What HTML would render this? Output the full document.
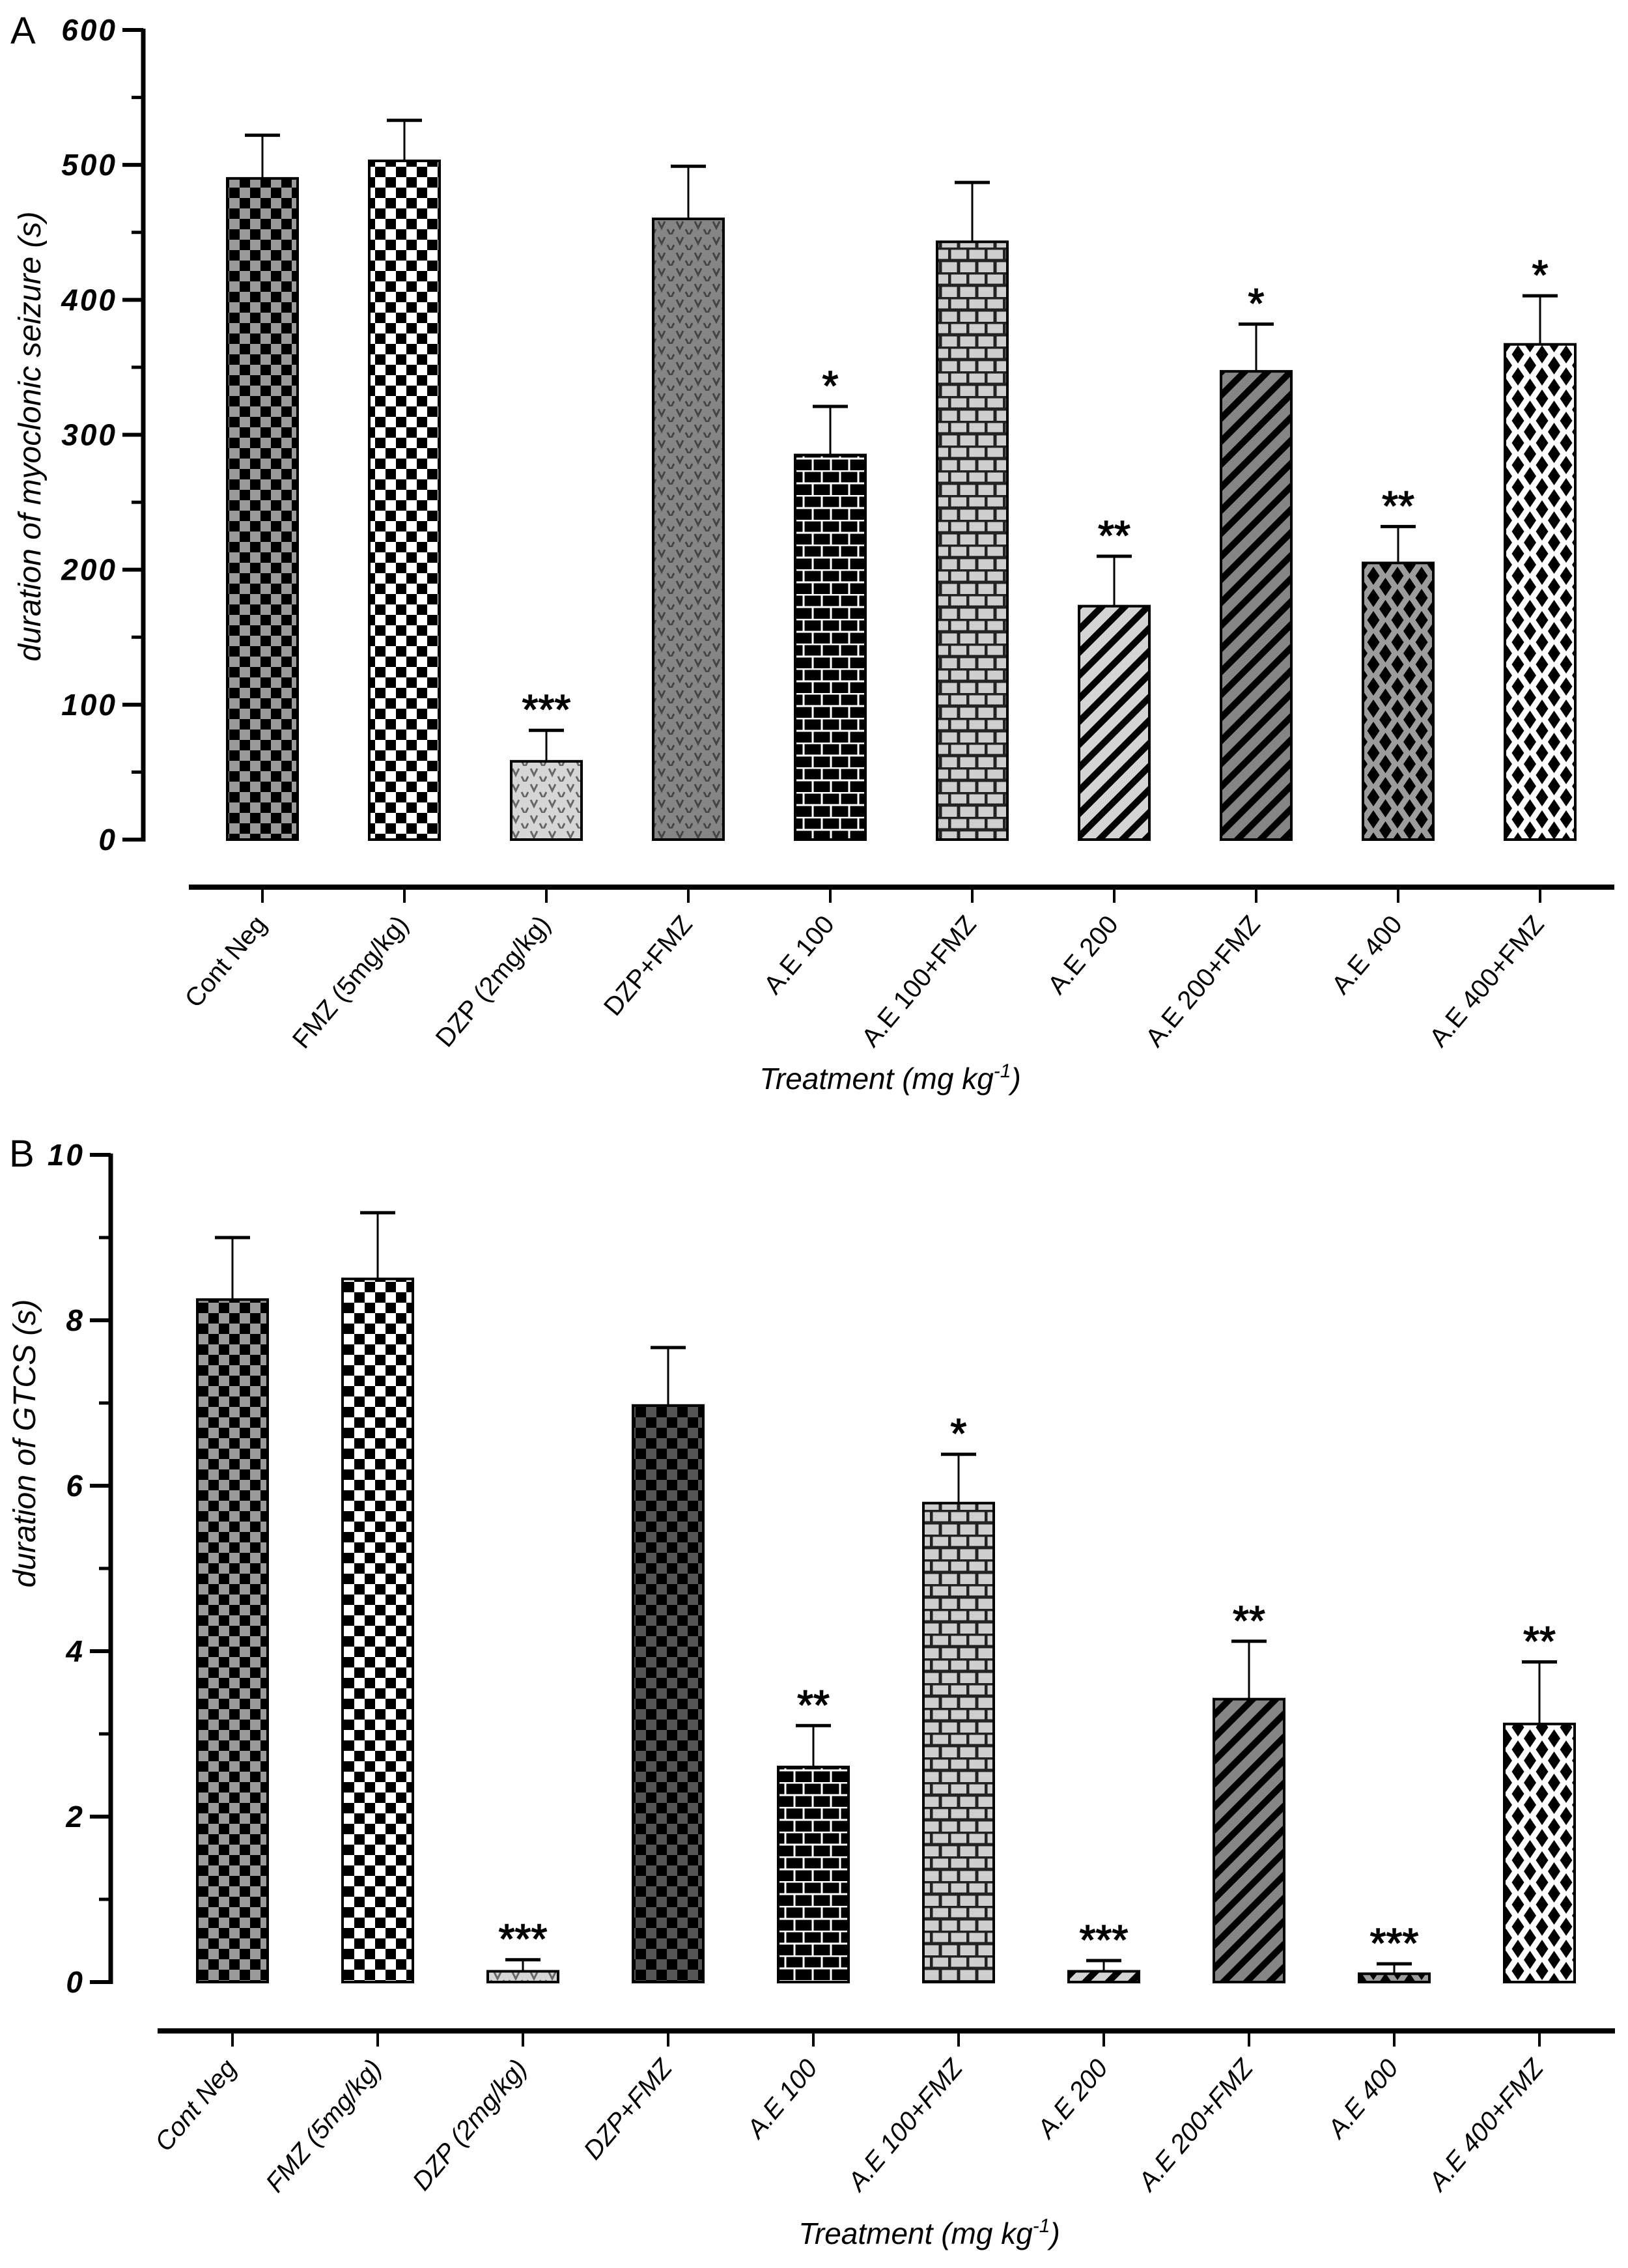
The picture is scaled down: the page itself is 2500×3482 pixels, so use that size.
<!DOCTYPE html>
<html><head><meta charset="utf-8">
<style>
html,body{margin:0;padding:0;background:#fff;}
svg{display:block;}
text{font-family:"Liberation Sans",Arial,sans-serif;}
</style></head>
<body>
<svg id="chart" width="2500" height="3482" viewBox="0 0 2500 3482" xmlns="http://www.w3.org/2000/svg">
<defs>
<pattern id="pChkGray" patternUnits="userSpaceOnUse" width="32" height="32"><rect width="32" height="32" fill="#9a9a9a"/><rect width="16" height="16" fill="#000"/><rect x="16" y="16" width="16" height="16" fill="#000"/></pattern>
<pattern id="pChkWhite" patternUnits="userSpaceOnUse" width="32" height="32"><rect width="32" height="32" fill="#fff"/><rect width="16" height="16" fill="#000"/><rect x="16" y="16" width="16" height="16" fill="#000"/></pattern>
<pattern id="pChkDark" patternUnits="userSpaceOnUse" width="32" height="32"><rect width="32" height="32" fill="#555"/><rect width="16" height="16" fill="#000"/><rect x="16" y="16" width="16" height="16" fill="#000"/></pattern>
<pattern id="pVLight" patternUnits="userSpaceOnUse" width="28" height="24"><rect width="28" height="24" fill="#d6d6d6"/><path d="M3 4 L8 14 L13 4 M17 16 L22 26 L27 16" stroke="#666" stroke-width="3" fill="none"/></pattern>
<pattern id="pVDark" patternUnits="userSpaceOnUse" width="28" height="24"><rect width="28" height="24" fill="#858585"/><path d="M3 4 L8 14 L13 4 M17 16 L22 26 L27 16" stroke="#444" stroke-width="3" fill="none"/></pattern>
<pattern id="pBrickBlack" patternUnits="userSpaceOnUse" width="28" height="38"><rect width="28" height="38" fill="#000"/><path d="M0 1 H28 M0 20 H28 M2 1 V20 M16 20 V38" stroke="#fff" stroke-width="3"/></pattern>
<pattern id="pBrickGray" patternUnits="userSpaceOnUse" width="28" height="38"><rect width="28" height="38" fill="#cfcfcf"/><path d="M0 1 H28 M0 20 H28 M2 1 V20 M16 20 V38" stroke="#222" stroke-width="5"/></pattern>
<pattern id="pStripeLight" patternUnits="userSpaceOnUse" width="25" height="25" patternTransform="rotate(45)"><rect width="25" height="25" fill="#d4d4d4"/><rect width="10" height="25" fill="#000"/></pattern>
<pattern id="pStripeGray" patternUnits="userSpaceOnUse" width="25" height="25" patternTransform="rotate(45)"><rect width="25" height="25" fill="#858585"/><rect width="10" height="25" fill="#000"/></pattern>
<pattern id="pDiaGray" patternUnits="userSpaceOnUse" width="37" height="34"><rect width="37" height="34" fill="#9c9c9c"/><path d="M18.5 3 L28 17 L18.5 31 L9 17Z M0 -14 L9.5 0 L0 14 L-9.5 0Z M37 -14 L46.5 0 L37 14 L27.5 0Z M0 20 L9.5 34 L0 48 L-9.5 34Z M37 20 L46.5 34 L37 48 L27.5 34Z" fill="#000"/></pattern>
<pattern id="pDiaWhite" patternUnits="userSpaceOnUse" width="37" height="34"><rect width="37" height="34" fill="#fff"/><path d="M18.5 3 L28 17 L18.5 31 L9 17Z M0 -14 L9.5 0 L0 14 L-9.5 0Z M37 -14 L46.5 0 L37 14 L27.5 0Z M0 20 L9.5 34 L0 48 L-9.5 34Z M37 20 L46.5 34 L37 48 L27.5 34Z" fill="#000"/></pattern>
</defs>
<g id="panelA"></g>
<g id="panelB"></g>
</svg>
<script>
const categories = ["Cont Neg","FMZ (5mg/kg)","DZP (2mg/kg)","DZP+FMZ","A.E 100","A.E 100+FMZ","A.E 200","A.E 200+FMZ","A.E 400","A.E 400+FMZ"];
const myoclonicMeans = [490, 503, 58, 460, 285, 443, 173, 347, 205, 367];
const myoclonicErr = [32, 30, 23, 39, 36, 44, 37, 35, 27, 36];
const myoclonicStars = ["", "", "***", "", "*", "", "**", "*", "**", "*"];
const gtcsMeans = [8.25, 8.5, 0.13, 6.97, 2.6, 5.79, 0.13, 3.42, 0.1, 3.12];
const gtcsErr = [0.75, 0.8, 0.14, 0.7, 0.5, 0.59, 0.13, 0.7, 0.12, 0.75];
const gtcsStars = ["", "", "***", "", "**", "*", "***", "**", "***", "**"];
const ticksA = [0, 100, 200, 300, 400, 500, 600];
const ticksB = [0, 2, 4, 6, 8, 10];
const fillsA = ["pChkGray","pChkWhite","pVLight","pVDark","pBrickBlack","pBrickGray","pStripeLight","pStripeGray","pDiaGray","pDiaWhite"];
const fillsB = ["pChkGray","pChkWhite","pVLight","pChkDark","pBrickBlack","pBrickGray","pStripeLight","pStripeGray","pDiaGray","pDiaWhite"];

const NS = "http://www.w3.org/2000/svg";
function mk(parent, tag, attrs, txt){
  const e = document.createElementNS(NS, tag);
  for (const k in attrs) e.setAttribute(k, attrs[k]);
  if (txt !== undefined) e.textContent = txt;
  parent.appendChild(e);
  return e;
}

function drawPanel(cfg){
  const g = document.getElementById(cfg.id);
  const y = v => cfg.y0 - (v - 0) / cfg.max * (cfg.y0 - cfg.yTop);
  const x = i => cfg.x0 + i * cfg.step;
  let t = mk(g, "text", {x: cfg.letterX, y: cfg.letterY, "font-size": 58});
  t.textContent = cfg.letter;
  
  
  let ax = mk(g, "line", {x1: cfg.axX, y1: y(cfg.max)-2, x2: cfg.axX, y2: cfg.y0+3, stroke: "#000", "stroke-width": 7});
  
  
  cfg.ticks.forEach((v, k) => {
    mk(g, "line", {x1: cfg.axX - 32, y1: y(v), x2: cfg.axX, y2: y(v), stroke: "#000", "stroke-width": 6});
    if (k < cfg.ticks.length - 1) {
      const m = (v + cfg.ticks[k+1]) / 2;
      mk(g, "line", {x1: cfg.axX - 18, y1: y(m), x2: cfg.axX, y2: y(m), stroke: "#000", "stroke-width": 5});
    }
    const tl = mk(g, "text", {x: cfg.axX - 40, y: y(v) + 16, "text-anchor": "end", "font-size": 46, "font-weight": "bold", "font-style": "italic", "letter-spacing": 3}, String(v));
    
    
  });
  const yl = mk(g, "text", {x: 0, y: 0, transform: `translate(${cfg.yTitleX},${cfg.yTitleY}) rotate(-90)`, "text-anchor": "middle", "font-size": 48, "font-style": "italic"}, cfg.yTitle);
  
  
  cfg.means.forEach((v, i) => {
    const cx = x(i), w = cfg.barW;
    const top = y(v + cfg.err[i]);
    const el = mk(g, "line", {x1: cx, y1: y(v), x2: cx, y2: top, stroke: "#000", "stroke-width": 3});
    
    
    mk(g, "line", {x1: cx - 27, y1: top, x2: cx + 27, y2: top, stroke: "#000", "stroke-width": 5});
    const r = mk(g, "rect", {x: cx - w/2, y: y(v), width: w, height: Math.max(cfg.y0 - y(v), 1), fill: `url(#${cfg.fills[i]})`, stroke: "#000", "stroke-width": 4});
    
    
    if (cfg.stars[i]) {
      const s = mk(g, "text", {x: cx, y: top - 10, "text-anchor": "middle", "font-size": 64, "stroke": "#000", "stroke-width": 1.5}, cfg.stars[i]);
      
      
    }
  });
  const ca = mk(g, "line", {x1: cfg.catX1, y1: cfg.catY, x2: cfg.catX2, y2: cfg.catY, stroke: "#000", "stroke-width": 8});
  
  
  categories.forEach((c, i) => {
    mk(g, "line", {x1: x(i), y1: cfg.catY, x2: x(i), y2: cfg.catY + 24, stroke: "#000", "stroke-width": 4});
    const lab = mk(g, "text", {x: 0, y: 0, transform: `translate(${x(i) + 8},${cfg.catY + 58}) rotate(-50)`, "text-anchor": "end", "font-size": 40, "font-style": cfg.labItalic ? "italic" : "normal"}, c);
    
    
  });
  const xt = mk(g, "text", {x: cfg.xTitleX, y: cfg.xTitleY, "text-anchor": "middle", "font-size": 46, "font-style": "italic"});
  
  
  mk(xt, "tspan", {}, "Treatment (mg kg");
  mk(xt, "tspan", {dy: -18, "font-size": 30}, "-1");
  mk(xt, "tspan", {dy: 18}, ")");
}

drawPanel({id: "panelA", letter: "A", letterX: 16, letterY: 67, means: myoclonicMeans, err: myoclonicErr, stars: myoclonicStars, ticks: ticksA, max: 600,
  y0: 1289, yTop: 46, axX: 220, x0: 403, step: 218, barW: 108, fills: fillsA,
  yTitle: "duration of myoclonic seizure (s)", yTitleX: 62, yTitleY: 670,
  catX1: 290, catX2: 2479, catY: 1362, xTitleX: 1367, xTitleY: 1672, labItalic: false});
drawPanel({id: "panelB", letter: "B", letterX: 14, letterY: 1791, means: gtcsMeans, err: gtcsErr, stars: gtcsStars, ticks: ticksB, max: 10,
  y0: 3043, yTop: 1773, axX: 170, x0: 357, step: 223, barW: 108, fills: fillsB,
  yTitle: "duration of GTCS (s)", yTitleX: 54, yTitleY: 2216,
  catX1: 242, catX2: 2480, catY: 3118, xTitleX: 1427, xTitleY: 3445, labItalic: true});
</script>
</body></html>
